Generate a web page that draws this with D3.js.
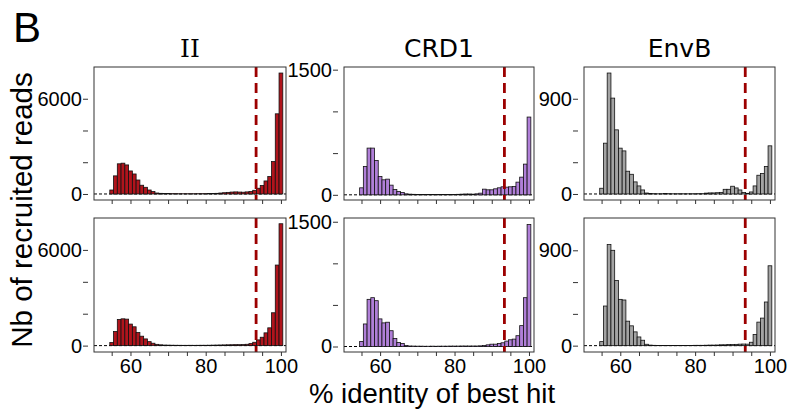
<!DOCTYPE html>
<html>
<head>
<meta charset="utf-8">
<script src="https://cdn.jsdelivr.net/npm/d3@7"></script>
<style>
  html, body { margin: 0; padding: 0; background: #fff; }
  svg text { font-family: "Liberation Sans", Arial, sans-serif; fill: #000; }
</style>
</head>
<body>
<svg id="chart" width="789" height="411"></svg>
<script>
// ---------- data ----------
const bins = [55,56,57,58,59,60,61,62,63,64,65,66,67,68,69,70,71,72,73,74,75,76,77,78,79,80,
              81,82,83,84,85,86,87,88,89,90,91,92,93,94,95,96,97,98,99,100];

const iiTop = [250,1140,1900,1940,1830,1450,1260,880,550,420,250,150,60,40,30,25,
               20,20,15,15,15,15,15,20,20,20,
               25,30,40,60,80,100,120,130,120,110,
               130,150,230,360,530,820,1100,2040,5050,7620];
const iiBottom = [190,884,1640,1680,1660,1350,1180,820,590,420,250,150,80,50,35,30,
                  25,22,20,18,18,20,18,20,22,22,
                  25,30,35,40,45,50,55,60,60,63,
                  84,126,210,360,525,800,1115,2060,5050,7640];
const crd1Top = [84,340,560,560,412,220,180,188,116,64,40,28,12,8,6,5,
                 4,4,3,3,4,4,3,4,5,5,
                 6,8,10,10,8,12,20,68,60,60,
                 72,84,96,92,96,100,152,212,368,932];
const crd1Bottom = [61,271,567,587,551,332,284,292,190,97,49,36,12,6,5,4,
                    4,3,3,4,3,4,4,4,5,5,
                    5,6,6,6,6,6,8,12,20,28,
                    28,36,45,65,81,89,130,251,587,1466];
const envbTop = [54,480,1143,906,606,433,407,215,186,114,76,38,9,5,3,2,
                 2,4,3,2,2,2,2,2,2,2,
                 3,3,8,10,10,12,15,44,44,73,
                 57,38,13,6,19,76,177,193,260,455];
const envbBottom = [38,374,954,900,615,437,431,231,187,130,82,51,13,5,3,2,
                    2,2,2,2,2,2,2,2,2,3,
                    3,3,4,5,5,6,8,8,10,10,
                    12,14,15,14,32,105,222,260,412,754];

const titles = ["II", "CRD1", "EnvB"];
const xTicks = [55,60,65,70,75,80,85,90,95,100];
const xTickLabels = [60, 80, 100];
const iiYTicks = [0,2000,4000,6000];     const iiYLabels = [0,6000];
const crd1YTicks = [0,500,1000,1500];    const crd1YLabels = [0,1500];
const envbYTicks = [0,300,600,900];      const envbYLabels = [0,900];
const threshold = 93.4;

// ---------- layout ----------
const colX = [94, 344, 584];
const colW = [192, 190, 191];
const rowY = [67, 218];
const rowH = [133, 134];
const xDomain = [50.3, 101.35];
const colors = ["#b0141c", "#b07fd8", "#a3a3a3"];

const panels = [
  {row:0, col:0, values: iiTop,      yDom: [-380, 8000], ticks: iiYTicks,   labels: iiYLabels},
  {row:0, col:1, values: crd1Top,    yDom: [-62, 1532],  ticks: crd1YTicks, labels: crd1YLabels},
  {row:0, col:2, values: envbTop,    yDom: [-57, 1200],  ticks: envbYTicks, labels: envbYLabels},
  {row:1, col:0, values: iiBottom,   yDom: [-400, 8000], ticks: iiYTicks,   labels: iiYLabels},
  {row:1, col:1, values: crd1Bottom, yDom: [-66, 1545],  ticks: crd1YTicks, labels: crd1YLabels},
  {row:1, col:2, values: envbBottom, yDom: [-60, 1205],  ticks: envbYTicks, labels: envbYLabels}
];

const svg = d3.select("#chart");
svg.append("rect").attr("width", 789).attr("height", 411).attr("fill", "#fff");

panels.forEach(p => {
  const w = colW[p.col], h = rowH[p.row];
  const g = svg.append("g").attr("transform", `translate(${colX[p.col]},${rowY[p.row]})`);
  const x = d3.scaleLinear().domain(xDomain).range([0, w]);
  const y = d3.scaleLinear().domain(p.yDom).range([h, 0]);

  // zero dotted line
  g.append("line")
    .attr("x1", 0).attr("x2", w).attr("y1", y(0)).attr("y2", y(0))
    .attr("stroke", "#000").attr("stroke-width", 1).attr("stroke-dasharray", "3,2");

  // bars
  g.selectAll("rect.bar").data(bins.map((b, i) => ({b, v: p.values[i]})))
    .enter().append("rect").attr("class", "bar")
    .attr("x", d => x(d.b - 0.5))
    .attr("width", d => x(d.b + 0.5) - x(d.b - 0.5))
    .attr("y", d => y(d.v))
    .attr("height", d => y(0) - y(d.v))
    .attr("fill", colors[p.col])
    .attr("stroke", "#111").attr("stroke-width", 0.8);

  // threshold
  g.append("line")
    .attr("x1", x(threshold)).attr("x2", x(threshold)).attr("y1", 0).attr("y2", h)
    .attr("stroke", "#9c0000").attr("stroke-width", 2.8).attr("stroke-dasharray", "10,6");

  // box
  g.append("rect").attr("x", 0).attr("y", 0).attr("width", w).attr("height", h)
    .attr("fill", "none").attr("stroke", "#333").attr("stroke-width", 1);

  // x axis
  const xa = g.append("g").attr("transform", `translate(0,${h})`)
    .call(d3.axisBottom(x).tickValues(xTicks).tickSize(4).tickPadding(3)
      .tickFormat(d => (p.row === 1 && xTickLabels.includes(d)) ? d : ""));
  xa.select(".domain").remove();
  xa.selectAll("line").attr("stroke", "#333");
  xa.selectAll("text").attr("font-size", 20).attr("font-family", "Liberation Sans, Arial, sans-serif").attr("fill", "#000");

  // y axis (detached ticks)
  const ya = g.append("g").attr("transform", "translate(-6,0)")
    .call(d3.axisLeft(y).tickValues(p.ticks).tickSize(5).tickPadding(1)
      .tickFormat(d => p.labels.includes(d) ? d : ""));
  ya.select(".domain").remove();
  ya.selectAll("line").attr("stroke", "#333");
  ya.selectAll("text").attr("font-size", 20).attr("font-family", "Liberation Sans, Arial, sans-serif").attr("fill", "#000");
});

// titles
titles.forEach((t, i) => {
  svg.append("text")
    .attr("x", colX[i] + colW[i] / 2).attr("y", 57)
    .attr("text-anchor", "middle")
    .style("font-family", i === 0 ? "'DejaVu Serif', serif" : "'DejaVu Sans', sans-serif")
    .attr("font-size", 25)
    .text(t);
});

// panel letter
svg.append("text").attr("x", 13).attr("y", 42).attr("font-size", 42).text("B");

// axis titles
svg.append("text")
  .attr("transform", "translate(32,210) rotate(-90)")
  .attr("text-anchor", "middle").attr("font-size", 29.5)
  .text("Nb of recruited reads");
svg.append("text")
  .attr("x", 432).attr("y", 403).attr("text-anchor", "middle").attr("font-size", 27.5)
  .text("% identity of best hit");
</script>
</body>
</html>
